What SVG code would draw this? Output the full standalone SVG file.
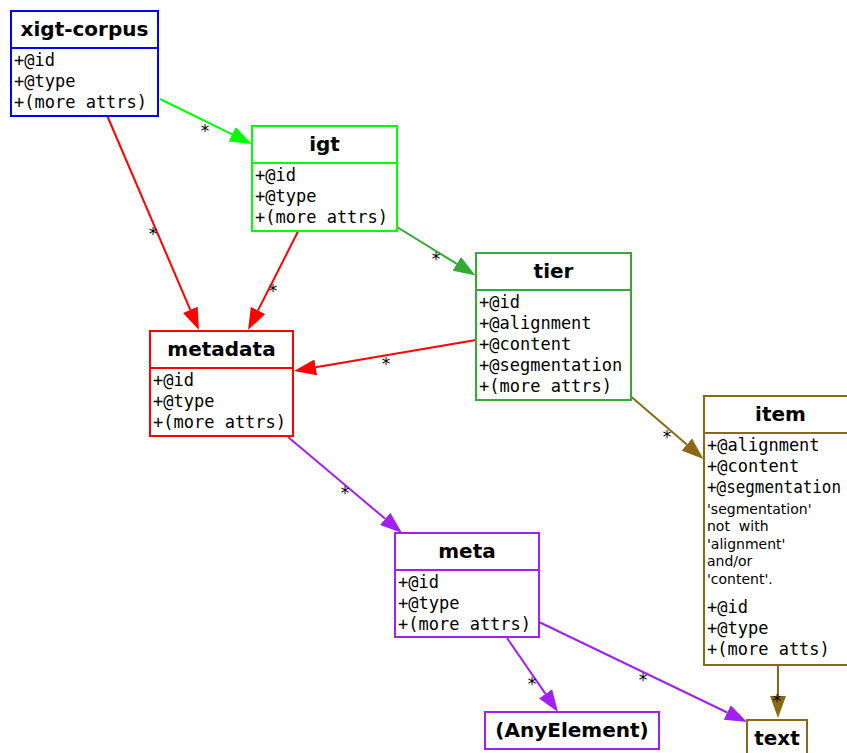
<svg xmlns="http://www.w3.org/2000/svg" width="847" height="753" viewBox="0 0 847 753">
<defs>
<style>
.box{fill:#ffffff;stroke-width:2}
.title{font-family:"DejaVu Sans","Liberation Sans",sans-serif;font-weight:bold;font-size:20px;text-anchor:middle;fill:#000}
.attr{font-family:"DejaVu Sans Mono","Liberation Mono",monospace;font-size:17px;fill:#000}
.note{font-family:"DejaVu Sans","Liberation Sans",sans-serif;font-size:14px;fill:#000}
.lbl{font-family:"DejaVu Sans","Liberation Sans",sans-serif;font-size:17px;text-anchor:middle;fill:#000}
.e{fill:none;stroke-width:2}
.blue{stroke:#0000ff}
.lime{stroke:#00ff00}
.green{stroke:#33aa33}
.red{stroke:#ff0000}
.purple{stroke:#a020f0}
.brown{stroke:#8b6914}
</style>
<marker id="aLime" markerUnits="userSpaceOnUse" markerWidth="23" markerHeight="17" refX="0" refY="8.5" orient="auto"><path d="M0,0.5 L22,8.5 L0,16.5 Z" fill="#00ff00"/></marker>
<marker id="aGreen" markerUnits="userSpaceOnUse" markerWidth="23" markerHeight="17" refX="0" refY="8.5" orient="auto"><path d="M0,0.5 L22,8.5 L0,16.5 Z" fill="#33aa33"/></marker>
<marker id="aRed" markerUnits="userSpaceOnUse" markerWidth="23" markerHeight="17" refX="0" refY="8.5" orient="auto"><path d="M0,0.5 L22,8.5 L0,16.5 Z" fill="#ff0000"/></marker>
<marker id="aPurple" markerUnits="userSpaceOnUse" markerWidth="23" markerHeight="17" refX="0" refY="8.5" orient="auto"><path d="M0,0.5 L22,8.5 L0,16.5 Z" fill="#a020f0"/></marker>
<marker id="aBrown" markerUnits="userSpaceOnUse" markerWidth="23" markerHeight="17" refX="0" refY="8.5" orient="auto"><path d="M0,0.5 L22,8.5 L0,16.5 Z" fill="#8b6914"/></marker>
</defs>
<rect width="847" height="753" fill="#ffffff"/>

<g id="connectors">
  <path class="e lime" d="M160,99 L232.2,134.3" marker-end="url(#aLime)"/>
  <text class="lbl" x="205" y="137">*</text>
  <path class="e red" d="M107.5,116.5 L190.3,309.8" marker-end="url(#aRed)"/>
  <text class="lbl" x="153" y="240">*</text>
  <path class="e red" d="M298,231.5 L258,310.4" marker-end="url(#aRed)"/>
  <text class="lbl" x="273" y="297">*</text>
  <path class="e green" d="M397,227 L456.8,263.9" marker-end="url(#aGreen)"/>
  <text class="lbl" x="436" y="265">*</text>
  <path class="e red" d="M476,340 L315.7,367.3" marker-end="url(#aRed)"/>
  <text class="lbl" x="386" y="370">*</text>
  <path class="e brown" d="M631.5,397 L686.8,444.6" marker-end="url(#aBrown)"/>
  <text class="lbl" x="667" y="443">*</text>
  <path class="e purple" d="M288,437 L385.2,518.8" marker-end="url(#aPurple)"/>
  <text class="lbl" x="345" y="499">*</text>
  <path class="e purple" d="M507,638 L545.5,693.9" marker-end="url(#aPurple)"/>
  <text class="lbl" x="532" y="690">*</text>
  <path class="e purple" d="M539,622 L727.2,712.5" marker-end="url(#aPurple)"/>
  <text class="lbl" x="643" y="686">*</text>
  <path class="e brown" d="M778,665 L778,696" marker-end="url(#aBrown)"/>
  <text class="lbl" x="777" y="707">*</text>
</g>

<g id="xigt-corpus">
  <rect class="box blue" x="11" y="11" width="147" height="105"/>
  <line class="blue" stroke-width="2" x1="11" y1="48" x2="158" y2="48"/>
  <text class="title" x="84.5" y="36">xigt-corpus</text>
  <text class="attr" x="14" y="65.5">+@id</text>
  <text class="attr" x="14" y="86.5">+@type</text>
  <text class="attr" x="14" y="107.5">+(more attrs)</text>
</g>

<g id="igt">
  <rect class="box lime" x="252" y="126" width="145" height="105"/>
  <line class="lime" stroke-width="2" x1="252" y1="163" x2="397" y2="163"/>
  <text class="title" x="324.5" y="151">igt</text>
  <text class="attr" x="255" y="180.5">+@id</text>
  <text class="attr" x="255" y="201.5">+@type</text>
  <text class="attr" x="255" y="222.5">+(more attrs)</text>
</g>

<g id="tier">
  <rect class="box green" x="476" y="253" width="155" height="147"/>
  <line class="green" stroke-width="2" x1="476" y1="290" x2="631" y2="290"/>
  <text class="title" x="553.5" y="278">tier</text>
  <text class="attr" x="479" y="307.5">+@id</text>
  <text class="attr" x="479" y="328.5">+@alignment</text>
  <text class="attr" x="479" y="349.5">+@content</text>
  <text class="attr" x="479" y="370.5">+@segmentation</text>
  <text class="attr" x="479" y="391.5">+(more attrs)</text>
</g>

<g id="metadata">
  <rect class="box red" x="150" y="331" width="143" height="105"/>
  <line class="red" stroke-width="2" x1="150" y1="368" x2="293" y2="368"/>
  <text class="title" x="221.5" y="356">metadata</text>
  <text class="attr" x="153" y="385.5">+@id</text>
  <text class="attr" x="153" y="406.5">+@type</text>
  <text class="attr" x="153" y="427.5">+(more attrs)</text>
</g>

<g id="item">
  <rect class="box brown" x="704" y="396" width="153" height="269"/>
  <line class="brown" stroke-width="2" x1="704" y1="433" x2="857" y2="433"/>
  <text class="title" x="780.5" y="421">item</text>
  <text class="attr" x="707" y="450.5">+@alignment</text>
  <text class="attr" x="707" y="471.5">+@content</text>
  <text class="attr" x="707" y="492.5" textLength="134" lengthAdjust="spacingAndGlyphs">+@segmentation</text>
  <text class="note" x="707" y="513.5">'segmentation'</text>
  <text class="note" x="707" y="531" xml:space="preserve">not  with</text>
  <text class="note" x="707" y="548.5">'alignment'</text>
  <text class="note" x="707" y="566">and/or</text>
  <text class="note" x="707" y="583.5">'content'.</text>
  <text class="attr" x="707" y="612.5">+@id</text>
  <text class="attr" x="707" y="633.5">+@type</text>
  <text class="attr" x="707" y="654.5">+(more atts)</text>
</g>

<g id="meta">
  <rect class="box purple" x="395" y="533" width="144" height="104"/>
  <line class="purple" stroke-width="2" x1="395" y1="570" x2="539" y2="570"/>
  <text class="title" x="467" y="558">meta</text>
  <text class="attr" x="398" y="587.5">+@id</text>
  <text class="attr" x="398" y="608.5">+@type</text>
  <text class="attr" x="398" y="629.5">+(more attrs)</text>
</g>

<g id="AnyElement">
  <rect class="box purple" x="485" y="712" width="174" height="37"/>
  <text class="title" x="572" y="737">(AnyElement)</text>
</g>

<g id="text">
  <rect class="box brown" x="747" y="720" width="60" height="45"/>
  <text class="title" x="777" y="745">text</text>
</g>
</svg>
